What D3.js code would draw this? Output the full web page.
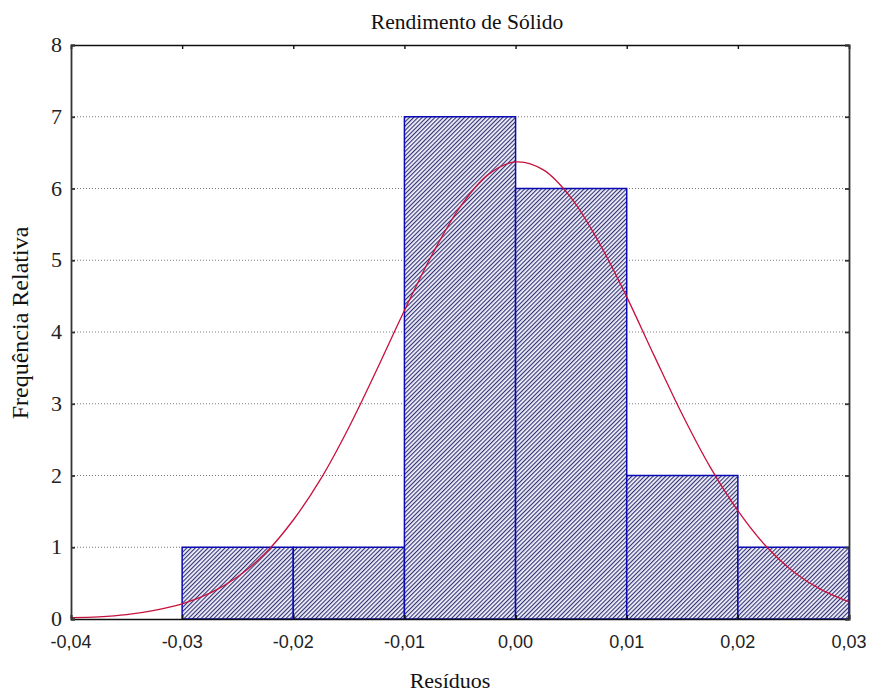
<!DOCTYPE html>
<html><head><meta charset="utf-8">
<script src="https://cdn.jsdelivr.net/npm/d3@7"></script>
<style>body{margin:0;background:#fff}</style>
</head><body>
<svg id="c" width="871" height="695"></svg>
<script>
const binStarts = [-0.03, -0.02, -0.01, 0.00, 0.01, 0.02];
const binWidth = 0.01;
const counts = [1, 1, 7, 6, 2, 1];
const curveX = [-0.04,-0.0375,-0.035,-0.0325,-0.03,-0.0275,-0.025,-0.0225,-0.02,-0.0175,-0.015,-0.0125,-0.01,-0.0075,-0.005,-0.0025,0,0.0025,0.005,0.0075,0.01,0.0125,0.015,0.0175,0.02,0.0225,0.025,0.0275,0.03];
const curveY = [0.02,0.03,0.06,0.12,0.21,0.36,0.59,0.92,1.38,1.96,2.67,3.47,4.30,5.08,5.74,6.19,6.37,6.26,5.87,5.25,4.49,3.66,2.85,2.12,1.51,1.02,0.66,0.41,0.24];
const xTicks = [-0.04,-0.03,-0.02,-0.01,0,0.01,0.02,0.03];
const xTickLabels = ["-0,04","-0,03","-0,02","-0,01","0,00","0,01","0,02","0,03"];
const yTicks = [0,1,2,3,4,5,6,7,8];

const svg = d3.select("#c");
const L=71, R=849, T=45, B=619;
const x = d3.scaleLinear().domain([-0.04,0.03]).range([L,R]);
const y = d3.scaleLinear().domain([0,8]).range([B,T]);

const defs = svg.append("defs");
const P = 3.0;
const pat = defs.append("pattern").attr("id","hatch").attr("patternUnits","userSpaceOnUse")
  .attr("width",P).attr("height",P).attr("patternTransform","rotate(45)");
pat.append("rect").attr("width",P).attr("height",P).attr("fill","#f2f2fa");
pat.append("line").attr("x1",0.6).attr("y1",0).attr("x2",0.6).attr("y2",P)
  .attr("stroke","#22226a").attr("stroke-width",1.05);

// grid
svg.append("g").selectAll("line").data(yTicks.filter(d=>d>0&&d<8)).join("line")
  .attr("x1",L).attr("x2",R).attr("y1",d=>y(d)).attr("y2",d=>y(d))
  .attr("stroke","#7a7a7a").attr("stroke-width",1).attr("stroke-dasharray","1,2");

// bars
svg.append("g").selectAll("rect").data(counts).join("rect")
  .attr("x",(d,i)=>x(binStarts[i])).attr("width",(d,i)=>x(binStarts[i]+binWidth)-x(binStarts[i]))
  .attr("y",d=>y(d)).attr("height",d=>y(0)-y(d))
  .attr("fill","url(#hatch)").attr("stroke","#0a0ab4").attr("stroke-width",1.5);

// curve
const line = d3.line().x((d,i)=>x(curveX[i])).y(d=>y(d)).curve(d3.curveCatmullRom);
svg.append("path").datum(curveY).attr("d",line).attr("fill","none")
  .attr("stroke","#c8103c").attr("stroke-width",1.3);

// axes (frame with inward ticks)
const tickLen = 4;
svg.append("g").attr("transform",`translate(0,${B})`)
  .call(d3.axisBottom(x).tickValues(xTicks).tickSize(-tickLen).tickFormat(""))
  .call(g=>g.selectAll("line,path").attr("stroke","#111").attr("stroke-width",1.6));
svg.append("g").attr("transform",`translate(0,${T})`)
  .call(d3.axisTop(x).tickValues(xTicks).tickSize(-tickLen).tickFormat(""))
  .call(g=>g.selectAll("line,path").attr("stroke","#111").attr("stroke-width",1.4));
svg.append("g").attr("transform",`translate(${L},0)`)
  .call(d3.axisLeft(y).tickValues(yTicks).tickSize(-tickLen).tickFormat(""))
  .call(g=>g.selectAll("line,path").attr("stroke","#333").attr("stroke-width",1.8));
svg.append("g").attr("transform",`translate(${R},0)`)
  .call(d3.axisRight(y).tickValues(yTicks).tickSize(-tickLen).tickFormat(""))
  .call(g=>g.selectAll("line,path").attr("stroke","#333").attr("stroke-width",1.8));

// tick labels
svg.append("g").selectAll("text").data(xTicks).join("text")
  .attr("x",d=>x(d)).attr("y",648).attr("text-anchor","middle")
  .attr("font-family","'Liberation Sans', Arial, sans-serif").attr("font-size",18).attr("fill","#222")
  .text((d,i)=>xTickLabels[i]);
svg.append("g").selectAll("text").data(yTicks).join("text")
  .attr("x",62).attr("y",d=>y(d)+7).attr("text-anchor","end")
  .attr("font-family","'Liberation Serif', 'Times New Roman', serif").attr("font-size",22).attr("fill","#222")
  .text(d=>d);

// titles
svg.append("text").attr("x",467).attr("y",29).attr("text-anchor","middle")
  .attr("font-family","'Liberation Serif', 'Times New Roman', serif").attr("font-size",21.5).attr("fill","#111")
  .text("Rendimento de Sólido");
svg.append("text").attr("x",450).attr("y",688).attr("text-anchor","middle")
  .attr("font-family","'Liberation Serif', 'Times New Roman', serif").attr("font-size",22).attr("fill","#111")
  .text("Resíduos");
svg.append("text").attr("transform","translate(28,323) rotate(-90)").attr("text-anchor","middle")
  .attr("font-family","'Liberation Serif', 'Times New Roman', serif").attr("font-size",24).attr("fill","#111")
  .text("Frequência Relativa");
</script>
</body></html>
